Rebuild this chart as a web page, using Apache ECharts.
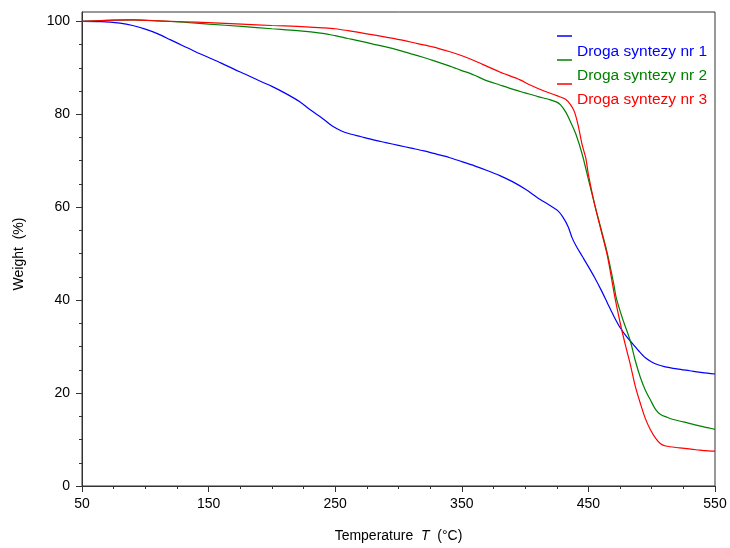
<!DOCTYPE html>
<html><head><meta charset="utf-8">
<script src="https://cdn.jsdelivr.net/npm/echarts@6/dist/echarts.min.js"></script>
<style>html,body{margin:0;padding:0;background:#fff}#c{width:730px;height:548px}</style>
</head><body><div id="c"></div>
<script>
const seriesNames = ['Droga syntezy nr 1', 'Droga syntezy nr 2', 'Droga syntezy nr 3'];
const seriesColors = ['#0000ff', '#008000', '#ff0000'];

// [temperature °C, weight %]
const nr1 = [[50,100],[65,99.95],[80,99.6],[90,99.1],[100,98.3],[110,97.3],[120,96],[130,94.7],[140,93.4],[150,92.2],[160,91.0],[170,89.7],[180,88.5],[190,87.2],[200,86],[210,84.6],[222,82.7],[230,81],[240,79.1],[248,77.4],[255,76.4],[260,75.9],[270,75.2],[280,74.5],[290,73.9],[300,73.3],[310,72.7],[320,72.1],[330,71.4],[340,70.7],[350,69.8],[360,68.9],[370,67.9],[380,66.8],[390,65.5],[400,63.9],[410,62],[420,60.3],[426,59.2],[430,57.8],[434,55.8],[437,53.5],[440,51.8],[445,49.5],[450,47.2],[455,44.8],[460,42.2],[465,39.4],[470,36.6],[475,34.1],[480,32.2],[485,30.6],[490,29],[495,27.6],[500,26.7],[505,26.1],[510,25.7],[520,25.2],[530,24.8],[540,24.4],[550,24.1]];
const nr2 = [[50,100],[70,100.2],[90,100.3],[110,100.1],[130,99.8],[150,99.4],[176,98.9],[200,98.4],[220,98],[240,97.4],[250,96.9],[260,96.3],[267,95.9],[280,95.1],[290,94.5],[300,93.8],[310,93],[320,92.2],[327,91.6],[340,90.4],[349,89.5],[360,88.4],[368,87.4],[380,86.3],[390,85.4],[400,84.6],[410,83.8],[420,83.1],[425,82.6],[428,82],[432,80.5],[436,78.3],[440,75.8],[445,71.5],[450,66],[455,60.5],[460,55.3],[465,50],[470,43.5],[472,40.5],[477,36],[483,31.3],[487,27],[491,23.4],[495,20.6],[499,18.5],[503,16.5],[507,15.4],[512,14.8],[517,14.3],[525,13.8],[535,13.1],[545,12.5],[550,12.2]];
const nr3 = [[50,100],[70,100.2],[90,100.3],[110,100.1],[130,99.9],[150,99.7],[176,99.4],[200,99.1],[220,98.9],[240,98.6],[250,98.4],[260,98.0],[275,97.3],[290,96.6],[304,95.9],[315,95.2],[327,94.5],[340,93.5],[349,92.7],[360,91.5],[370,90.3],[380,89.1],[396,87.4],[404,86.3],[415,85],[425,84],[432,83.2],[436,82],[439,80.5],[442,77.5],[445,73.5],[448,70.5],[450,67],[455,60.5],[460,55],[465,49.5],[471,40.5],[476,34],[480,29.5],[483,26.3],[487,21.5],[491,17.8],[495,14.5],[499,12.1],[503,10.3],[507,9.1],[511,8.6],[522,8.2],[535,7.8],[549,7.5],[550,7.5]];
const seriesData = [nr1, nr2, nr3];

const xMajorTicks = [50,150,250,350,450,550];
const xMinorTicks = [75,100,125,175,200,225,275,300,325,375,400,425,475,500,525];
const yMajorTicks = [0,20,40,60,80,100];
const yMinorTicks = [5,10,15,25,30,35,45,50,55,65,70,75,85,90,95];

const FF = '"Liberation Sans", Arial, sans-serif';
const AX = '#333';

const chart = echarts.init(document.getElementById('c'), null, {renderer: 'canvas'});
const xBase = {type:'value', min:50, max:550, position:'bottom', splitLine:{show:false}};
const yBase = {type:'value', min:0, max:102, position:'left', splitLine:{show:false}};
chart.setOption({
  animation: false,
  backgroundColor: '#fff',
  grid: {left:82, right:15, top:12, bottom:58, show:true, borderColor:AX, borderWidth:1, containLabel:false},
  legend: {
    orient:'vertical', left:557, top:27, padding:0, itemWidth:15, itemHeight:1.5, itemGap:-9,
    icon:'rect', selectedMode:false,
    formatter: function (name) { return '{g| }\n{t|' + name + '}'; },
    textStyle:{fontSize:15.5, fontFamily:FF,
      rich:{g:{fontSize:2, lineHeight:32}, t:{fontSize:15.5, fontFamily:FF, lineHeight:16}}},
    data: seriesNames.map((n,i)=>({name:n, textStyle:{color:seriesColors[i]}}))
  },
  xAxis: [
    Object.assign({}, xBase, {
      axisLine:{show:true, onZero:false, lineStyle:{color:AX, width:1}},
      axisTick:{show:true, length:6, customValues:xMajorTicks, lineStyle:{color:AX}},
      axisLabel:{customValues:xMajorTicks, margin:11, fontSize:14, color:'#000', fontFamily:FF},
      name:'{a|Temperature  }{b|T}{a|  (°C)}', nameLocation:'middle', nameGap:43,
      nameTextStyle:{fontSize:14, color:'#000', fontFamily:FF,
        rich:{a:{fontSize:14, fontFamily:FF, color:'#000'}, b:{fontSize:14, fontFamily:FF, color:'#000', fontStyle:'italic'}}}
    }),
    Object.assign({}, xBase, {
      axisLine:{show:false, onZero:false},
      axisTick:{show:true, length:3, customValues:xMinorTicks, lineStyle:{color:AX}},
      axisLabel:{show:false, customValues:xMinorTicks}
    })
  ],
  yAxis: [
    Object.assign({}, yBase, {
      axisLine:{show:true, onZero:false, lineStyle:{color:AX, width:1}},
      axisTick:{show:true, length:6, customValues:yMajorTicks, lineStyle:{color:AX}},
      axisLabel:{customValues:yMajorTicks, margin:12, fontSize:14, color:'#000', fontFamily:FF},
      name:'Weight  (%)', nameLocation:'middle', nameGap:56,
      nameTextStyle:{fontSize:14, color:'#000', fontFamily:FF, padding:[0,10,0,0]}
    }),
    Object.assign({}, yBase, {
      axisLine:{show:false, onZero:false},
      axisTick:{show:true, length:3, customValues:yMinorTicks, lineStyle:{color:AX}},
      axisLabel:{show:false, customValues:yMinorTicks}
    })
  ],
  series: seriesNames.map((n,i)=>({
    name:n, type:'line', xAxisIndex:0, yAxisIndex:0, data:seriesData[i],
    showSymbol:false, smooth:0.3, lineStyle:{color:seriesColors[i], width:1.2},
    itemStyle:{color:seriesColors[i]}
  }))
});
</script></body></html>
